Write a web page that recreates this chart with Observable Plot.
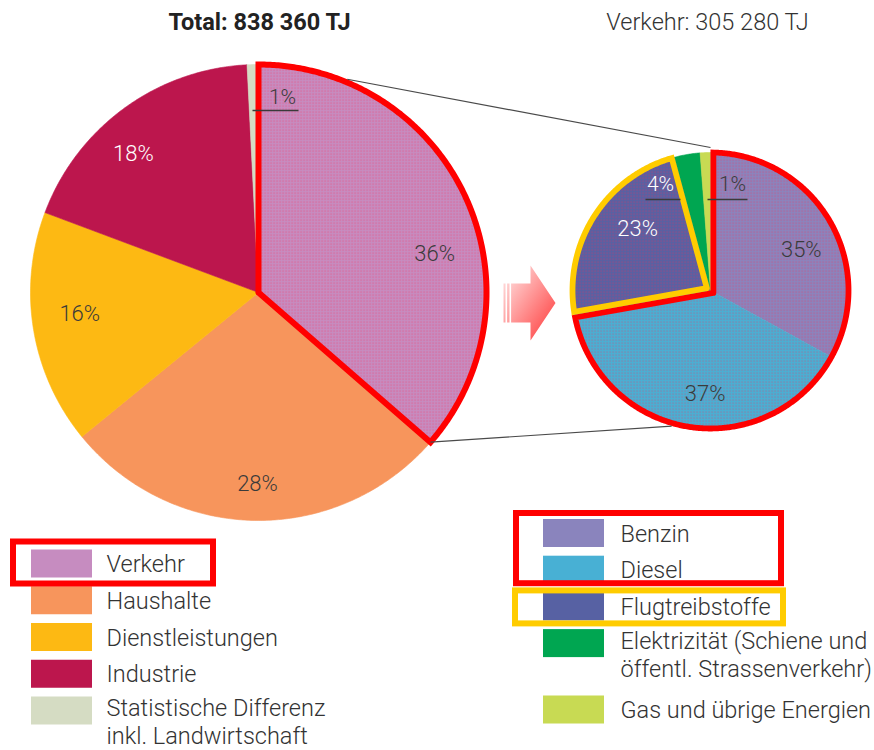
<!DOCTYPE html>
<html><head><meta charset="utf-8">
<script src="https://cdn.jsdelivr.net/npm/d3@7"></script>
<script src="https://cdn.jsdelivr.net/npm/@observablehq/plot@0.6"></script>
<style>
body{margin:0;background:#fff;}
#chart{width:874px;height:750px;}
</style></head><body><div id="chart"></div>
<script>
// ---------- data ----------
const totalTitle = "Total: 838 360 TJ";
const verkehrTitle = "Verkehr: 305 280 TJ";
const sectors = ["Verkehr","Haushalte","Dienstleistungen","Industrie","Statistische Differenz\ninkl. Landwirtschaft"];
const sectorShares = [36.4, 27.7, 16.6, 18.5, 0.8];
const sectorLabels = ["36%","28%","16%","18%","1%"];
const sectorColors = ["#c68cc0","#f7955c","#fdb913","#bc164d","#d5dcc3"];
const fuels = ["Benzin","Diesel","Flugtreibstoffe","Elektrizität (Schiene und\nöffentl. Strassenverkehr)","Gas und übrige Energien"];
const fuelShares = [33.0, 39.2, 23.6, 3.0, 1.2];
const fuelLabels = ["35%","37%","23%","4%","1%"];
const fuelColors = ["#8a84bd","#48b0d4","#5761a3","#00a651","#c8da53"];

// ---------- layout ----------
const W = 874, H = 750;
const L = {cx:258, cy:292, r:228};
const R = {cx:710, cy:290, r:138};
const FONT = "Roboto, 'Noto Sans', sans-serif";
const deg = Math.PI/180;
const sectorLabelPos = [[77.8,0.79],[180.3,0.84],[263,0.79],[318,0.82],null];
const sectorLabelFill = ["#3a3a3a","#3a3a3a","#3a3a3a","#ffffff","#3a3a3a"];
const fuelLabelPos = [[66,0.72],[183,0.75],[310,0.69],null,null];
const fuelLabelFill = ["#3a3a3a","#3a3a3a","#ffffff","#ffffff","#3a3a3a"];
const leaderLeft = {4:{tx:24, ty:-195, x1:-6, x2:40, ly:-182}};
const leaderRight = {3:{tx:-50, ty:-106, x1:-65, x2:-30, ly:-91}, 4:{tx:22, ty:-106, x1:-3, x2:37, ly:-91}};

function pt(c, a, r) { return {x: c.cx + r*Math.sin(a), y: c.cy - r*Math.cos(a)}; }
function sector(c, a0, a1, r = c.r) {
  const pts = [{x:c.cx, y:c.cy}];
  const n = Math.max(2, Math.ceil((a1 - a0) / (0.5*deg)));
  for (let i = 0; i <= n; i++) pts.push(pt(c, a0 + (a1 - a0)*i/n, r));
  pts.push({x:c.cx, y:c.cy});
  return pts;
}
// sector whose straight edges are pulled inward by d (outline drawn inside the slice)
function insetSector(c, a0, a1, d) {
  const th = a1 - a0, mid = (a0 + a1)/2;
  const v = pt(c, mid, d / Math.sin(th/2));
  const da = Math.asin(d / c.r);
  const pts = [v];
  const n = Math.max(2, Math.ceil((th - 2*da) / (0.5*deg)));
  for (let i = 0; i <= n; i++) pts.push(pt(c, a0 + da + (th - 2*da)*i/n, c.r));
  pts.push(v);
  return pts;
}
const pie = d3.pie().sort(null).value(d => d);
const leftArcs = pie(sectorShares);
const rightArcs = pie(fuelShares);

const marks = [];
leftArcs.forEach((a, i) => {
  marks.push(Plot.line(sector(L, a.startAngle, a.endAngle), {x:"x", y:"y", fill: sectorColors[i], stroke: sectorColors[i], strokeWidth: 0.6}));
});
marks.push(Plot.line(sector(L, leftArcs[0].startAngle, leftArcs[0].endAngle), {x:"x", y:"y", fill:"url(#dots)", stroke:"none"}));
rightArcs.forEach((a, i) => {
  marks.push(Plot.line(sector(R, a.startAngle, a.endAngle), {x:"x", y:"y", fill: fuelColors[i], stroke: fuelColors[i], strokeWidth: 0.6}));
});
[0,1,2].forEach(i => marks.push(Plot.line(sector(R, rightArcs[i].startAngle, rightArcs[i].endAngle), {x:"x", y:"y", fill:"url(#dots)", stroke:"none"})));

// outlines
const ol = {x:"x", y:"y", fill:"none", strokeLinejoin:"miter", strokeMiterlimit:10};
marks.push(Plot.line(sector(L, leftArcs[0].startAngle, leftArcs[0].endAngle), {...ol, stroke:"#ff0000", strokeWidth:6}));
marks.push(Plot.line(insetSector(R, rightArcs[0].startAngle, rightArcs[1].endAngle, 2.9), {...ol, stroke:"#ff0000", strokeWidth:5.8}));
marks.push(Plot.line(insetSector(R, rightArcs[2].startAngle, rightArcs[2].endAngle, 2.9), {...ol, stroke:"#ffcc00", strokeWidth:5.8}));

// connector lines
const p1 = pt(L, 22.6*deg, L.r+3), p2 = pt(R, 0, R.r+5);
const p3 = pt(L, leftArcs[0].endAngle, L.r), p4 = pt(R, 196*deg, R.r+3);
marks.push(Plot.link([{x1:p1.x,y1:p1.y,x2:p2.x,y2:p2.y},{x1:p3.x,y1:p3.y,x2:p4.x,y2:p4.y}], {x1:"x1",y1:"y1",x2:"x2",y2:"y2", stroke:"#4a4a4a", strokeWidth:1.2}));

// arrow
const ax = 503, ay = 302.5;
const arrowShape = [[0,-19.5],[27,-19.5],[27,-37.5],[52,0],[27,37.5],[27,19.5],[0,19.5],[0,-19.5]].map(([dx,dy]) => ({x:ax+dx, y:ay+dy}));
marks.push(Plot.line(arrowShape, {x:"x", y:"y", fill:"url(#arrowGrad)", stroke:"none"}));
marks.push(Plot.link([{x:ax+2.8},{x:ax+6.8}], {x1:"x", x2:"x", y1:ay-20, y2:ay+20, stroke:"#fff", strokeWidth:1.6}));

// percentage labels
function labelData(arcs, labels, pos, fills, c) {
  return arcs.map((a, i) => {
    if (!pos[i]) return null;
    const p = pt(c, pos[i][0]*deg, pos[i][1]*c.r);
    return {x:p.x, y:p.y, t:labels[i], f:fills[i]};
  }).filter(d => d);
}
const pctLabels = [...labelData(leftArcs, sectorLabels, sectorLabelPos, sectorLabelFill, L), ...labelData(rightArcs, fuelLabels, fuelLabelPos, fuelLabelFill, R)];
marks.push(Plot.text(pctLabels, {x:"x", y:"y", text:"t", fill:"f", fontSize:22, fontWeight:300, fontFamily:FONT}));
const leaders = [];
for (const [k,v] of Object.entries(leaderLeft)) leaders.push({c:L, t:sectorLabels[k], f:sectorLabelFill[k], ...v});
for (const [k,v] of Object.entries(leaderRight)) leaders.push({c:R, t:fuelLabels[k], f:fuelLabelFill[k], ...v});
marks.push(Plot.link(leaders, {x1:d=>d.c.cx+d.x1, x2:d=>d.c.cx+d.x2, y1:d=>d.c.cy+d.ly, y2:d=>d.c.cy+d.ly, stroke:"#3a3a3a", strokeWidth:1.3}));
marks.push(Plot.text(leaders, {x:d=>d.c.cx+d.tx, y:d=>d.c.cy+d.ty, text:"t", fill:"f", fontSize:21, fontWeight:300, fontFamily:FONT}));

// titles
marks.push(Plot.text([totalTitle], {x:L.cx+1, y:22, text:d=>d, fontSize:23.5, fontWeight:700, fill:"#222", fontFamily:FONT}));
marks.push(Plot.text([verkehrTitle], {x:R.cx-3, y:22, text:d=>d, fontSize:23.5, fontWeight:300, fill:"#333", fontFamily:FONT}));

// legends
const legL = sectors.map((s,i) => ({s, c:sectorColors[i], x:31, yc:563.5 + i*36.75, tx:106}));
const extraR = [0,0,0,0,29.7];
const legR = fuels.map((s,i) => ({s, c:fuelColors[i], x:543, yc:533 + i*36.7 + extraR[i], tx:620}));
const leg = [...legL, ...legR];
const legLines = leg.flatMap(d => {
  const parts = d.s.split("\n");
  const off = parts.length > 1 ? -2.2 : 0.5;
  return parts.map((t, j) => ({t, x:d.tx, y:d.yc + off + j*27.7}));
});
marks.push(Plot.rect(leg, {x1:"x", x2:d=>d.x+61, y1:d=>d.yc-14, y2:d=>d.yc+14, fill:"c"}));
marks.push(Plot.text(legLines, {x:"x", y:"y", text:"t", textAnchor:"start", fontSize:23.5, fontWeight:300, fill:"#333", fontFamily:FONT}));
const boxes = [
  {x1:legL[0].x-18, x2:legL[0].x+182, y1:legL[0].yc-22, y2:legL[0].yc+20, s:"#ff0000"},
  {x1:legR[0].x-27, x2:legR[0].x+238, y1:legR[0].yc-20, y2:legR[1].yc+13.5, s:"#ff0000"},
  {x1:legR[2].x-28, x2:legR[2].x+240, y1:legR[2].yc-16, y2:legR[2].yc+17, s:"#ffcc00"}
];
marks.push(Plot.rect(boxes, {x1:"x1", x2:"x2", y1:"y1", y2:"y2", fill:"none", stroke:"s", strokeWidth:6}));

const svg = Plot.plot({
  width: W, height: H, margin: 0,
  x: {domain:[0,W], range:[0,W], axis:null},
  y: {domain:[0,H], range:[0,H], axis:null},
  style: {background:"#fff", fontFamily: FONT},
  marks
});
const defs = d3.select(svg).insert("defs", ":first-child");
const pat = defs.append("pattern").attr("id","dots").attr("width",3).attr("height",3).attr("patternUnits","userSpaceOnUse");
pat.append("rect").attr("width",1.2).attr("height",1.2).attr("fill","#ff2a55").attr("opacity",0.5);
const g = defs.append("linearGradient").attr("id","arrowGrad").attr("x1",0).attr("y1",0).attr("x2",1).attr("y2",1);
g.append("stop").attr("offset","0%").attr("stop-color","#ffecec");
g.append("stop").attr("offset","100%").attr("stop-color","#ff3535");
document.getElementById("chart").appendChild(svg);
</script></body></html>
